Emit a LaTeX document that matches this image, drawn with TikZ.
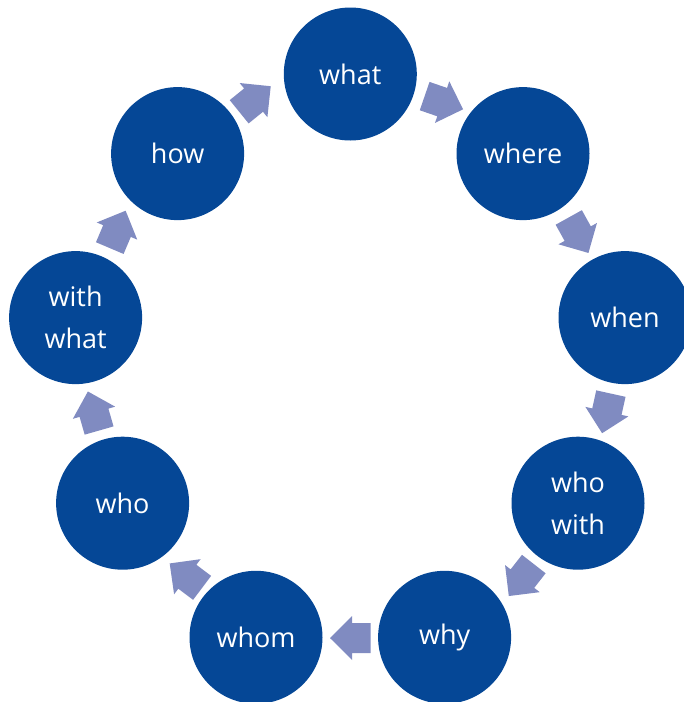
\documentclass[tikz,border=0pt]{standalone}
\usepackage{fontspec}
\setmainfont{Open Sans}
\usetikzlibrary{calc}
\definecolor{circblue}{RGB}{5,71,150}
\definecolor{arrowblue}{RGB}{128,139,193}
\tikzset{
  bubble/.style={circle, fill=circblue, draw=none, minimum size=133pt, inner sep=0pt,
    text=white, align=center, font=\fontsize{27}{42}\selectfont},
  blockarrow/.pic={\fill[arrowblue] (-20.3,-15) -- (-1.8,-15) -- (-1.8,-22) -- (20.3,0)
    -- (-1.8,22) -- (-1.8,15) -- (-20.3,15) -- cycle;}
}
\begin{document}
\begin{tikzpicture}[x=1pt,y=-1pt]
\useasboundingbox (0,0) rectangle (684,702);
\node[bubble] (what) at (350.3,74) {what};
\node[bubble] (where) at (523,153.6) {where};
\node[bubble] (when) at (625,317.6) {when};
\node[bubble] (whowith) at (578,503.2) {who\\with};
\node[bubble] (why) at (444.6,637.3) {why};
\node[bubble] (whom) at (256,637.3) {whom};
\node[bubble] (who) at (122.6,503.2) {who};
\node[bubble] (withwhat) at (75.6,317.6) {with\\what};
\node[bubble] (how) at (177.6,153.6) {how};
\path ($(what)!0.5!(where)$) ++(7.2,-11.1) pic[rotate=-19] {blockarrow};
\path ($(where)!0.5!(when)$) ++(4.6,-0.4) pic[rotate=-61] {blockarrow};
\path ($(when)!0.5!(whowith)$) ++(5,3) pic[rotate=-102.5] {blockarrow};
\path ($(whowith)!0.5!(why)$) ++(10,9.8) pic[rotate=-128] {blockarrow};
\path ($(why)!0.5!(whom)$) ++(0,0.7) pic[rotate=180] {blockarrow};
\path ($(whom)!0.5!(who)$) ++(-3.4,5.4) pic[rotate=143] {blockarrow};
\path ($(who)!0.5!(withwhat)$) ++(-5.6,0.6) pic[rotate=106] {blockarrow};
\path ($(withwhat)!0.5!(how)$) ++(-8.9,-6.2) pic[rotate=67] {blockarrow};
\path ($(how)!0.5!(what)$) ++(-9,-14.8) pic[rotate=39] {blockarrow};
\end{tikzpicture}
\end{document}
